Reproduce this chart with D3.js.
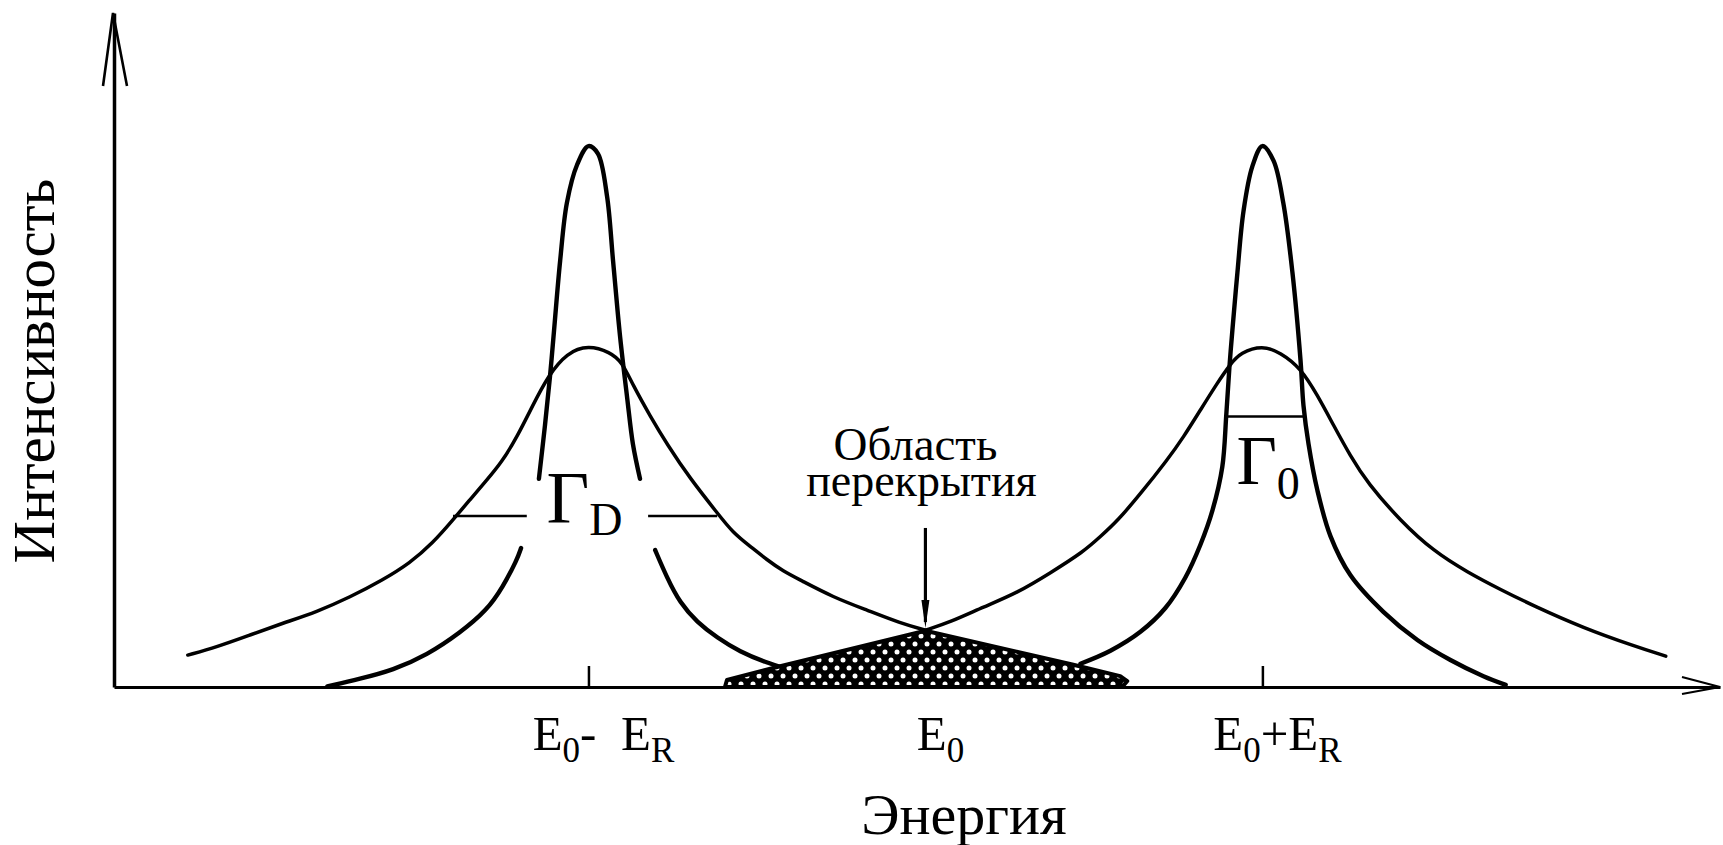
<!DOCTYPE html>
<html>
<head>
<meta charset="utf-8">
<script src="https://cdn.jsdelivr.net/npm/d3@7"></script>
<style>
  html, body { margin: 0; padding: 0; background: #fff; }
  svg { display: block; }
  text { font-family: "Liberation Serif", "Times New Roman", serif; fill: #000; }
</style>
</head>
<body>
<svg id="chart" width="1723" height="845"></svg>
<script>
// Energy in units where E_R = 100 (E0 at 0); intensity in % of the narrow-line peak.
const tickEnergies = [-100, 0, 100];
// Tick labels as [text, isSubscript] runs
const tickLabels = [
  [["E", 0], ["0", 1], ["-  ", 0], ["E", 0], ["R", 1]],
  [["E", 0], ["0", 1]],
  [["E", 0], ["0", 1], ["+", 0], ["E", 0], ["R", 1]]
];
const xTitle = "Энергия";
const yTitle = "Интенсивность";
const overlapLabel = ["Область", "перекрытия"];

// Broad (Doppler-broadened) lines
const broadLeft = [[-218.9,5.9],[-210.3,7.4],[-200.5,9.6],[-190.7,11.8],[-180.6,13.9],[-170.8,16.6],
  [-161.0,19.8],[-153.0,22.9],[-146.2,26.6],[-140.2,30.9],[-135.2,34.6],[-130.1,38.3],[-125.7,41.6],
  [-121.2,46.2],[-116.5,52.1],[-112.0,57.5],[-106.4,61.8],[-100,63.2],[-93.6,61.9],[-90.0,60.1],
  [-86.8,55.8],[-81.7,50.1],[-76.7,44.9],[-69.8,38.5],[-61.8,32.2],[-57.1,28.5],[-52.0,26.0],
  [-47.0,23.5],[-42.2,21.4],[-37.2,19.8],[-27.4,16.6],[-17.3,14.2],[-7.5,11.8],[0,10.5]];
const broadRight = [[0,10.5],[7.4,12.0],[17.2,14.8],[27.3,17.4],[37.1,21.1],[46.9,25.0],[51.9,27.8],
  [57.0,30.7],[63.8,35.7],[71.8,42.0],[76.6,46.2],[81.6,51.2],[86.6,56.2],[90.5,59.7],[93.5,61.8],
  [100,63.2],[105.4,61.8],[111.3,59.0],[116.3,54.0],[121.1,48.4],[126.1,42.7],[131.2,37.7],
  [141.0,30.7],[150.8,25.1],[160.9,21.2],[170.7,18.0],[180.5,15.0],[195.3,10.9],[210.2,7.6],[219.7,5.7]];

// Narrow (natural width) lines; the left one is broken around the Γ_D label
const narrowLeftUpper = [[-114.7,38.5],[-112.9,48.4],[-111.4,57.5],[-110.2,66.0],[-108.4,78.8],
  [-106.4,89.5],[-103.4,96.5],[-100,100],[-97.2,98.6],[-94.5,90.8],[-92.7,78.8],[-90.6,64.7],
  [-88.5,53.4],[-86.8,44.9],[-84.7,38.5]];
const narrowLeftLowerA = [[-177.5,0.1],[-167.8,1.5],[-158.0,3.1],[-147.9,5.9],[-138.1,10.0],
  [-130.1,14.2],[-125.4,18.5],[-121.2,23.5],[-120.0,25.7]];
const narrowLeftLowerB = [[-80.2,25.3],[-76.7,20.2],[-72.8,15.5],[-67.8,12.0],[-61.8,9.1],
  [-55.0,6.5],[-47.6,4.6],[-40.1,3.1]];
const narrowRight = [[46.0,4.3],[54.9,6.7],[63.8,10.2],[71.2,14.6],[77.1,20.2],[81.6,26.3],
  [85.2,32.7],[88.1,40.7],[89.3,50.5],[90.2,59.0],[91.1,66.0],[92.6,76.7],[94.4,88.0],[97.0,96.2],
  [100,100],[103.3,97.3],[106.2,89.5],[108.9,76.7],[111.3,60.5],[112.2,52.0],[113.7,44.9],
  [116.3,36.4],[120.2,27.9],[126.1,20.7],[135.9,13.9],[146.0,8.7],[155.8,5.0],[165.6,2.0],[172.2,0.4]];

// Overlap region of the two lines
const overlap = [[-59.5,0],[-58.9,1.3],[-44.0,3.7],[0,10.4],[43.9,4.1],[57.8,2.0],[59.9,1.1],[58.4,0]];
const pointerEnergy = 0;
const pointerSpan = [29.4, 10.9];

// Half-maximum width markers
const gammaDLevel = 31.6;
const gammaDSegments = [[-140.2, -118.3], [-82.3, -61.8]];
const gamma0Level = 50;
const gamma0Segment = [89.3, 112.5];

const svg = d3.select("#chart");

const x = d3.scaleLinear().domain([-240.8, 235.8]).range([114, 1720]);
const y = d3.scaleLinear().domain([0, 124.6]).range([687, 13]);

// Dotted fill for the overlap
const defs = svg.append("defs");
const pat = defs.append("pattern").attr("id", "dots")
  .attr("patternUnits", "userSpaceOnUse").attr("width", 12).attr("height", 16);
pat.append("rect").attr("width", 12).attr("height", 16).attr("fill", "#000");
pat.append("circle").attr("cx", 3).attr("cy", 4).attr("r", 2.5).attr("fill", "#fff");
pat.append("circle").attr("cx", 9).attr("cy", 12).attr("r", 2.5).attr("fill", "#fff");

// Axes
const xAxisG = svg.append("g").attr("transform", `translate(0,${y(0)})`)
  .call(d3.axisBottom(x).tickValues(tickEnergies).tickSizeInner(-21).tickSizeOuter(0).tickFormat(""));
xAxisG.select(".domain").attr("stroke", "#000").attr("stroke-width", 3);
xAxisG.selectAll(".tick line").attr("stroke", "#000").attr("stroke-width", 2.5);

const yAxisG = svg.append("g").attr("transform", `translate(${x.range()[0]},0)`)
  .call(d3.axisLeft(y).tickValues([]).tickSizeOuter(0));
yAxisG.select(".domain").attr("stroke", "#000").attr("stroke-width", 3.5);

// Arrow heads
const xEnd = x.range()[1], yBase = y(0);
const yTop = y.range()[1], xLeft = x.range()[0];
svg.append("path")
  .attr("d", `M${xEnd - 38},${yBase - 10} L${xEnd},${yBase} L${xEnd - 38},${yBase + 7}`)
  .attr("fill", "none").attr("stroke", "#000").attr("stroke-width", 2.2);
svg.append("path")
  .attr("d", `M${xLeft - 11},${yTop + 73} L${xLeft - 1},${yTop} L${xLeft + 13},${yTop + 73}`)
  .attr("fill", "none").attr("stroke", "#000").attr("stroke-width", 2.6);

// Spectral lines: broad ones smoothed with a B-spline, narrow ones through their points
const smooth = d3.line().x(d => x(d[0])).y(d => y(d[1])).curve(d3.curveBasis);
const sharp = d3.line().x(d => x(d[0])).y(d => y(d[1])).curve(d3.curveCatmullRom.alpha(0.5));
const curves = [
  [broadLeft, 3.5, smooth], [broadRight, 3.5, smooth],
  [narrowLeftUpper, 4.4, sharp], [narrowLeftLowerA, 4.4, smooth], [narrowLeftLowerB, 4.4, smooth],
  [narrowRight, 4.4, sharp]
];
svg.append("g").selectAll("path").data(curves).join("path")
  .attr("d", d => d[2](d[0]))
  .attr("fill", "none").attr("stroke", "#000")
  .attr("stroke-width", d => d[1])
  .attr("stroke-linecap", "round").attr("stroke-linejoin", "round");

// Overlap region
svg.append("path")
  .attr("d", d3.line().x(d => x(d[0])).y(d => y(d[1]))(overlap) + "Z")
  .attr("fill", "url(#dots)").attr("stroke", "#000").attr("stroke-width", 4)
  .attr("stroke-linejoin", "round");

// Pointer to the overlap
svg.append("line")
  .attr("x1", x(pointerEnergy)).attr("x2", x(pointerEnergy))
  .attr("y1", y(pointerSpan[0])).attr("y2", y(pointerSpan[1]) - 6)
  .attr("stroke", "#000").attr("stroke-width", 3.2);
svg.append("path")
  .attr("d", `M${x(pointerEnergy) - 4},${y(pointerSpan[1]) - 28} L${x(pointerEnergy) + 4},${y(pointerSpan[1]) - 28} L${x(pointerEnergy)},${y(pointerSpan[1])} Z`)
  .attr("fill", "#000");

// Half-width markers
svg.append("g").selectAll("line").data(gammaDSegments).join("line")
  .attr("x1", d => x(d[0])).attr("x2", d => x(d[1]))
  .attr("y1", y(gammaDLevel)).attr("y2", y(gammaDLevel))
  .attr("stroke", "#000").attr("stroke-width", 2.6);
svg.append("line")
  .attr("x1", x(gamma0Segment[0])).attr("x2", x(gamma0Segment[1]))
  .attr("y1", y(gamma0Level)).attr("y2", y(gamma0Level))
  .attr("stroke", "#000").attr("stroke-width", 2.6);

// Γ labels
function gammaLabel(px, py, sub, size, subSize, shift) {
  const t = svg.append("text").attr("x", px).attr("y", py).attr("font-size", size);
  t.append("tspan").text("Γ");
  t.append("tspan").attr("font-size", subSize).attr("dy", shift).text(sub);
}
gammaLabel(x(-100) - 42, y(gammaDLevel) + 7, "D", 74, 46, 12);
gammaLabel(x(100) - 26, y(gamma0Level) + 67, "0", 70, 46, 15);

// Overlap caption
svg.append("text").attr("x", x(pointerEnergy) - 10).attr("y", y(42.0))
  .attr("text-anchor", "middle").attr("font-size", 47).text(overlapLabel[0]);
svg.append("text").attr("x", x(pointerEnergy) - 4).attr("y", y(35.3))
  .attr("text-anchor", "middle").attr("font-size", 46).text(overlapLabel[1]);

// Tick labels with subscripts
tickEnergies.forEach((e, i) => {
  const t = svg.append("text").attr("x", x(e) + 15).attr("y", 750)
    .attr("text-anchor", "middle").attr("font-size", 49).attr("xml:space", "preserve");
  let prevSub = 0;
  tickLabels[i].forEach(([s, sub]) => {
    const ts = t.append("tspan").text(s);
    if (sub) ts.attr("font-size", 35);
    if (sub !== prevSub) ts.attr("dy", sub ? 12 : -12);
    prevSub = sub;
  });
});

// Axis titles
svg.append("text").attr("x", 964).attr("y", 834)
  .attr("text-anchor", "middle").attr("font-size", 58).text(xTitle);
svg.append("text").attr("transform", "translate(54,371) rotate(-90)")
  .attr("text-anchor", "middle").attr("font-size", 59).text(yTitle);
</script>
</body>
</html>
